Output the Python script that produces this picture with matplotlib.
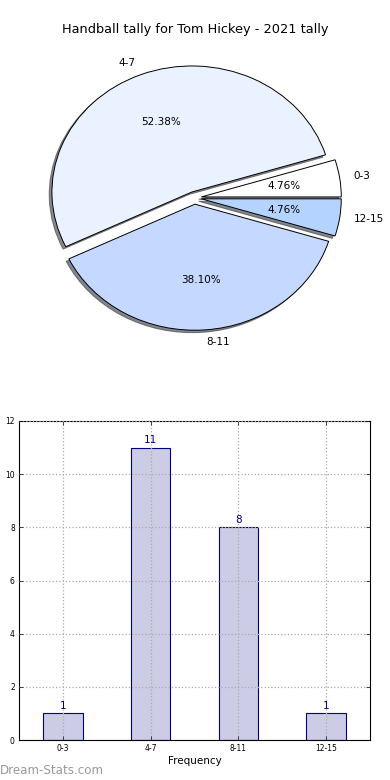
import matplotlib
matplotlib.use("Agg")
import matplotlib.pyplot as plt

categories = ["0-3", "4-7", "8-11", "12-15"]
counts = [1, 11, 8, 1]
pie_colors = ["#ffffff", "#eaf1ff", "#c5d8ff", "#b4d4ff"]

fig = plt.figure(figsize=(3.9, 7.8), dpi=100)

# Pie chart (top)
ax1 = fig.add_axes([0.05, 0.5443, 0.897, 0.404])
wedges, texts, autotexts = ax1.pie(
    counts, labels=categories, colors=pie_colors, autopct="%.2f%%",
    explode=[0.05] * len(counts),
    shadow=dict(ox=-0.014, oy=-0.014, shade=0.75, alpha=0.6),
    startangle=0,
    wedgeprops=dict(edgecolor="black", linewidth=0.7),
    textprops=dict(fontsize=7.5))
ax1.set_aspect("auto")
ax1.set_xlim(-1.25, 1.25)
ax1.set_ylim(-1.25, 1.25)
fig.text(0.5, 1 - 30 / 780, "Handball tally for Tom Hickey - 2021 tally",
         fontsize=9.3, ha="center", va="center")

# Bar chart (bottom)
ax2 = fig.add_axes([19 / 390, 40 / 780, 351 / 390, 319 / 780])
x = range(len(categories))
ax2.bar(x, counts, width=0.45, color="#cccce6",
        edgecolor="navy", linewidth=0.8, zorder=1)
for xi, c in zip(x, counts):
    ax2.text(xi, c + 0.1, str(c), ha="center", va="bottom",
             fontsize=7.5, color="navy")
ax2.set_xlim(-0.5, 3.5)
ax2.set_ylim(0, 12)
ax2.set_xticks(list(x))
ax2.set_xticklabels(categories)
ax2.set_yticks(range(0, 13, 2))
ax2.tick_params(labelsize=5.5, direction="in", top=True, right=True,
                length=3, width=0.5, pad=3)
ax2.grid(True, linestyle=":", color="#aaaaaa", linewidth=0.9, zorder=2)
ax2.set_axisbelow(False)
ax2.set_xlabel("Frequency", fontsize=7.5, labelpad=2)
ax2.set_ylabel("Scores in Tally", fontsize=7)
ax2.yaxis.set_label_coords(-0.06, 0.5)
for s in ax2.spines.values():
    s.set_linewidth(0.8)

fig.text(0.0, 1 - 771 / 780, "Dream-Stats.com", fontsize=8.6, color="#999999",
         ha="left", va="center")

fig.savefig("out.png", dpi=100)
